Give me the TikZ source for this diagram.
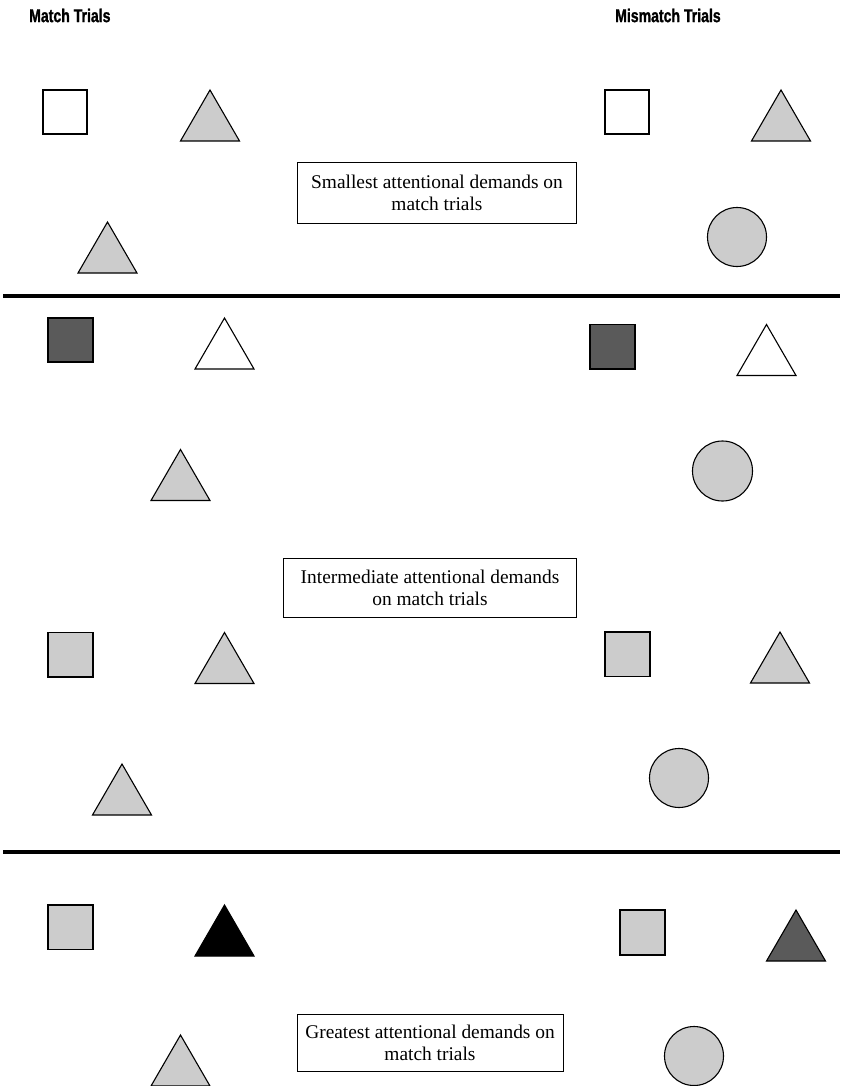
\documentclass[tikz,border=0pt]{standalone}
\usepackage{fontspec}
\setmainfont{Liberation Serif}
\newfontfamily\hdrfont{Liberation Sans}[FakeStretch=0.76,BoldFeatures={FakeBold=1.2}]
\definecolor{lightg}{HTML}{CCCCCC}
\definecolor{darkg}{HTML}{5A5A5A}
\begin{document}
\begin{tikzpicture}[x=1pt,y=-1pt,
  shp/.style={draw=black,line width=1.1pt,line join=miter},
  sep/.style={line width=4.5pt},
  hdr/.style={font=\hdrfont\bfseries\fontsize{18.5}{20}\selectfont,inner sep=0pt,anchor=west},
  note/.style={draw=black,line width=1pt,align=center,font=\fontsize{19.4}{22}\selectfont,inner sep=0pt}]
\useasboundingbox (0,0) rectangle (840,1086);
\fill[white] (0,0) rectangle (840,1086);
% headers
\node[hdr] (hm) at (29,15.5) {Match Trials};
\node[hdr] (hmm) at (615,15.5) {Mismatch Trials};
% separators
\coordinate (s1a) at (3,296); \coordinate (s1b) at (840,296);
\coordinate (s2a) at (3,852); \coordinate (s2b) at (840,852);
\draw[sep] (s1a) -- (s1b);
\draw[sep] (s2a) -- (s2b);
% section 1
\draw[shp,fill=white] (43,90) rectangle (87,134);
\draw[shp,fill=lightg] (210,90) -- (239.5,141) -- (180.5,141) -- cycle;
\draw[shp,fill=lightg] (107.5,222) -- (137,273) -- (78,273) -- cycle;
\draw[shp,fill=white] (605,90) rectangle (649,134);
\draw[shp,fill=lightg] (781,90) -- (810.5,141) -- (751.5,141) -- cycle;
\draw[shp,fill=lightg] (737,237) circle (29.5);
\node[note,minimum width=279,minimum height=61] (b1) at (437,193) {Smallest attentional demands on\\match trials};
% section 2
\draw[shp,fill=darkg] (48,318) rectangle (93,362);
\draw[shp,fill=white] (224.5,318) -- (254,369) -- (195,369) -- cycle;
\draw[shp,fill=lightg] (180.5,449.5) -- (210,500.5) -- (151,500.5) -- cycle;
\draw[shp,fill=darkg] (590,324.5) rectangle (635,369);
\draw[shp,fill=white] (766.5,324.5) -- (796,375.5) -- (737,375.5) -- cycle;
\draw[shp,fill=lightg] (722.5,471) circle (30);
\node[note,minimum width=293,minimum height=59] (b2) at (430,588) {Intermediate attentional demands\\on match trials};
\draw[shp,fill=lightg] (48,632.5) rectangle (93,677);
\draw[shp,fill=lightg] (224.5,632.5) -- (254,683.5) -- (195,683.5) -- cycle;
\draw[shp,fill=lightg] (122,764) -- (151.5,815) -- (92.5,815) -- cycle;
\draw[shp,fill=lightg] (605,632) rectangle (650,676.5);
\draw[shp,fill=lightg] (780,632) -- (809.5,683) -- (750.5,683) -- cycle;
\draw[shp,fill=lightg] (679,778) circle (29.5);
% section 3
\draw[shp,fill=lightg] (48,905) rectangle (93,949.5);
\draw[shp,fill=black] (224.5,905) -- (254,956) -- (195,956) -- cycle;
\draw[shp,fill=lightg] (180.5,1035) -- (210,1086) -- (151,1086) -- cycle;
\draw[shp,fill=lightg] (620,910) rectangle (665,955);
\draw[shp,fill=darkg] (796,910) -- (825.5,961) -- (766.5,961) -- cycle;
\draw[shp,fill=lightg] (694,1056) circle (29.5);
\node[note,minimum width=266,minimum height=57] (b3) at (430,1043) {Greatest attentional demands on\\match trials};
\end{tikzpicture}
\end{document}
